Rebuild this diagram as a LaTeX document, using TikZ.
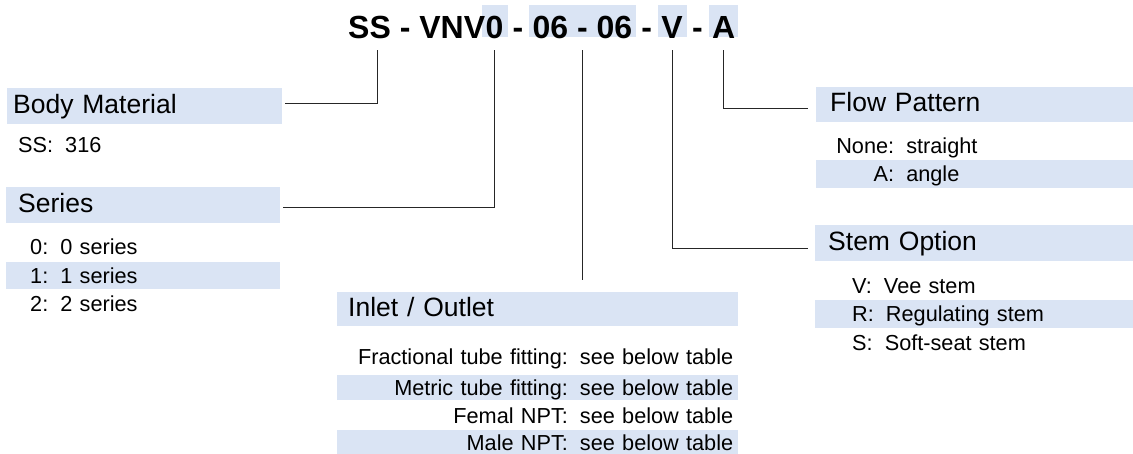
\documentclass[tikz,border=0pt]{standalone}
\usepackage{fontspec}
\setmainfont{Liberation Sans}
\usepackage{xcolor}
\usetikzlibrary{calc,backgrounds}

\definecolor{hdbg}{RGB}{218,228,244}
\newcommand{\titlefont}{\fontsize{32}{36}\selectfont\bfseries}
\newcommand{\headfont}{\fontsize{26.5}{30}\selectfont}
\newcommand{\itemfont}{\fontsize{21.7}{25}\selectfont}
\newcommand{\gap}{\hspace{0.556em}}
\newcommand{\dash}{\null\ -\ \null}

\begin{document}
\begin{tikzpicture}[
  x=1pt,y=-1pt,
  part/.style={anchor=base west,inner sep=0pt,font=\titlefont},
  head/.style={fill=hdbg,anchor=north west,minimum height=36,inner ysep=0pt,
    text height=19,text depth=5,align=left,font=\headfont},
  item/.style={anchor=north west,minimum height=27,inner ysep=0pt,
    text height=15.5,text depth=0.5,font=\itemfont},
  hl/.style={fill=hdbg},
  lead/.style={line width=0.8pt,draw=black!85}
]
\useasboundingbox (0,0) rectangle (1133,453);

% ordering code
\node[part] (pSS) at (348,38) {SS\ -\ VNV};
\node[part] (p0)  at (pSS.base east) {0};
\node[part] (pd1) at (p0.base east)  {\dash};
\node[part] (p06) at (pd1.base east) {06\ -\ 06};
\node[part] (pd2) at (p06.base east) {\dash};
\node[part] (pV)  at (pd2.base east) {V};
\node[part] (pd3) at (pV.base east)  {\dash};
\node[part] (pA)  at (pd3.base east) {A};

\begin{scope}[on background layer]
\fill[hdbg] ($(p0.base west)+(-3,-33)$)  rectangle ($(p0.base east)+(4,-1)$);
\fill[hdbg] ($(p06.base west)+(-3,-33)$) rectangle ($(p06.base east)+(4,-1)$);
\fill[hdbg] ($(pV.base west)+(-3,-33)$)  rectangle ($(pV.base east)+(4,-1)$);
\fill[hdbg] ($(pA.base west)+(-3,-33)$)  rectangle ($(pA.base east)+(3,-1)$);
\end{scope}

\coordinate (tSS) at ($(pSS.base west)+(29,12)$);
\coordinate (t0)  at ($(p0.base)+(0,12)$);
\coordinate (t06) at ($(p06.base)+(0,12)$);
\coordinate (tV)  at ($(pV.base)+(0,12)$);
\coordinate (tA)  at ($(pA.base)+(0,12)$);

% body material
\node[head,inner xsep=6,text width=263] (body) at (7,88) {Body Material};
\node[item,inner xsep=11,text width=253] (b1) at (7,131.5) {SS:\gap316};

% series
\node[head,inner xsep=12,text width=250] (series) at (6,187) {Series};
\node[item,inner xsep=24,text width=226] (s0) at (6,233.5) {0:\gap0 series};
\node[item,hl,inner xsep=24,text width=226] (s1) at (6,262) {1:\gap1 series};
\node[item,inner xsep=24,text width=226] (s2) at (6,290.5) {2:\gap2 series};

% inlet / outlet
\node[head,minimum height=34,inner xsep=11,text width=379] (inlet) at (337,292) {Inlet / Outlet};
\node[item,minimum height=25,align=right,inner xsep=5,text width=391] (i1) at (337,344.5) {Fractional tube fitting:\gap see below table};
\node[item,hl,minimum height=25,align=right,inner xsep=5,text width=391] (i2) at (337,375) {Metric tube fitting:\gap see below table};
\node[item,minimum height=25,align=right,inner xsep=5,text width=391] (i3) at (337,403.5) {Femal NPT:\gap see below table};
\node[item,hl,minimum height=25,align=right,inner xsep=5,text width=391] (i4) at (337,430) {Male NPT:\gap see below table};

% flow pattern
\node[head,minimum height=35,inner xsep=14,text width=289] (flow) at (816,87) {Flow Pattern};
\node[item,minimum height=28,inner xsep=20,text width=277] (f1) at (816,132) {\makebox[58pt][r]{None:}\gap straight};
\node[item,hl,minimum height=28,inner xsep=20,text width=277] (f2) at (816,160) {\makebox[58pt][r]{A:}\gap angle};

% stem option
\node[head,inner xsep=13,text width=292] (stem) at (815,225) {Stem Option};
\node[item,minimum height=28,inner xsep=37,text width=244] (v1) at (815,272) {V:\gap Vee stem};
\node[item,hl,minimum height=28,inner xsep=37,text width=244] (v2) at (815,300) {R:\gap Regulating stem};
\node[item,minimum height=28,inner xsep=37,text width=244] (v3) at (815,329) {S:\gap Soft-seat stem};

% leaders
\draw[lead,shorten >=3pt] (tSS) |- ([yshift=3pt]body.east);
\draw[lead,shorten >=3pt] (t0) |- ([yshift=-2pt]series.east);
\draw[lead,shorten >=12pt] (t06) -- (t06 |- inlet.north);
\draw[lead,shorten >=7pt] (tV) |- ([yshift=-5pt]stem.west);
\draw[lead,shorten >=8pt] (tA) |- ([yshift=-3.5pt]flow.west);

\end{tikzpicture}
\end{document}
